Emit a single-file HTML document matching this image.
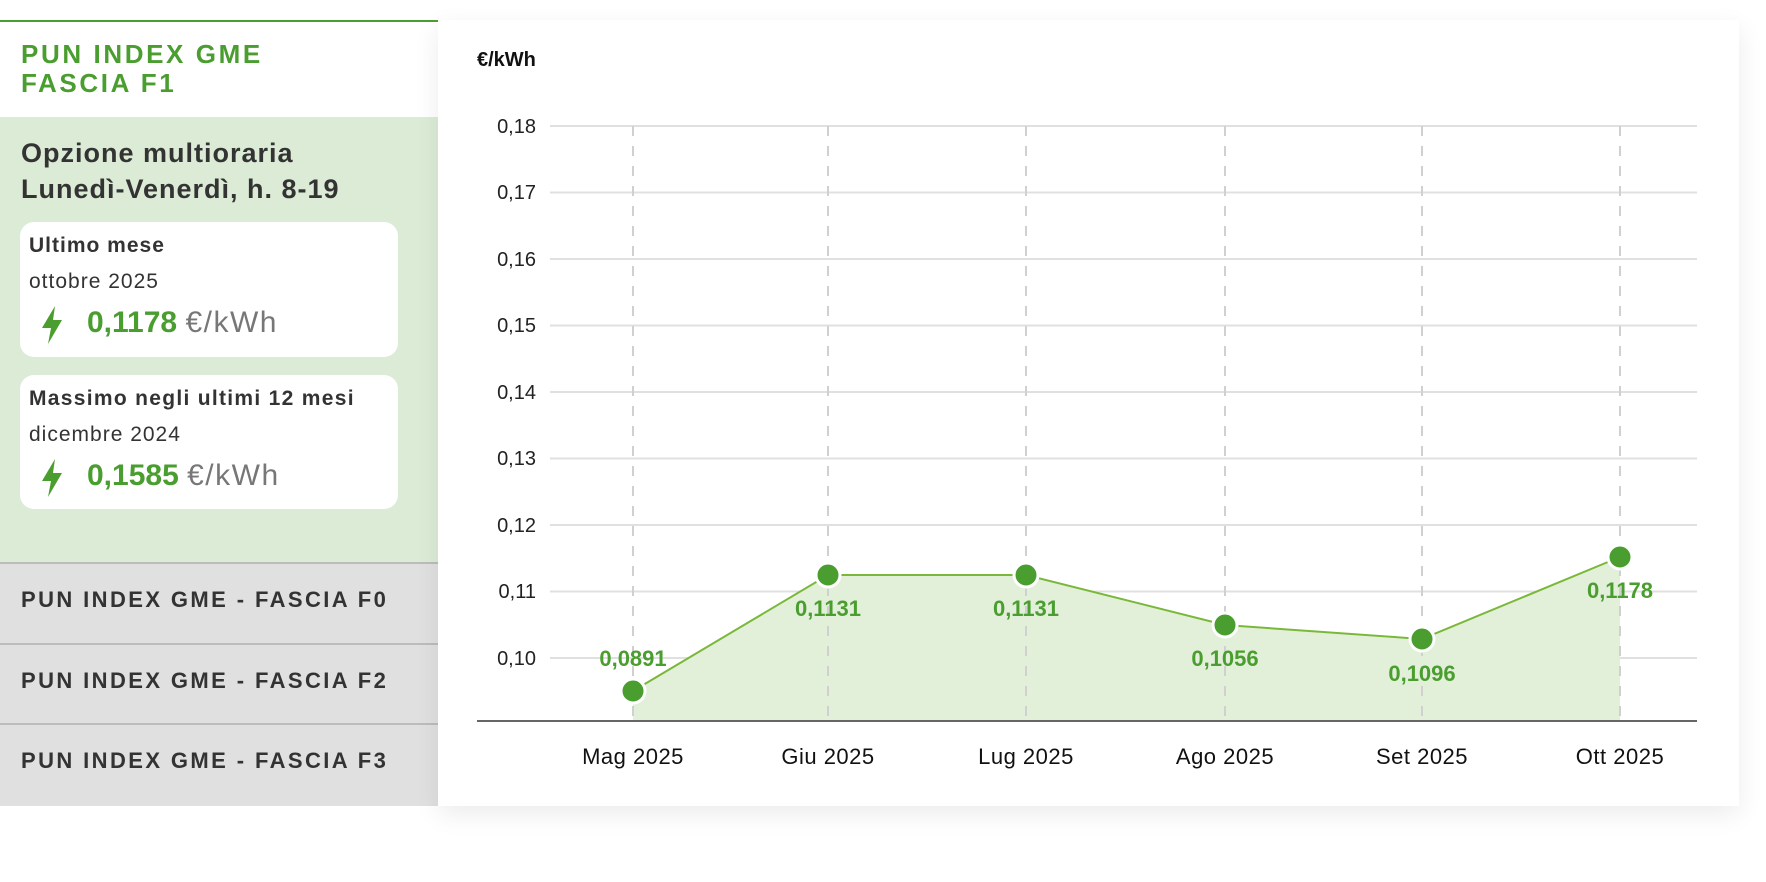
<!DOCTYPE html>
<html><head><meta charset="utf-8"><style>
body{margin:0;width:1766px;height:882px;background:#fff;font-family:"Liberation Sans",sans-serif;position:relative;overflow:hidden}
.l{position:absolute;left:0;width:438px}
.t{position:absolute;white-space:nowrap}
.card{position:absolute;left:20px;width:378px;background:#fff;border-radius:14px}
.row{position:absolute;left:0;width:438px;background:#e0e0e0;border-top:2px solid #bcbcbc;box-sizing:border-box}
.row span{position:absolute;left:21px;top:23px;font-weight:bold;font-size:22px;letter-spacing:2.4px;color:#333}
</style></head><body>
<div class="l" style="top:20px;height:2px;background:#4a9e2f"></div>
<div class="t" style="left:21px;top:40px;font-size:26px;font-weight:bold;color:#4a9e2f;letter-spacing:2.6px;line-height:29px">PUN INDEX GME<br>FASCIA F1</div>
<div class="l" style="top:117px;height:448px;background:#dcebd6"></div>
<div class="t" style="left:21px;top:135px;font-size:27px;font-weight:bold;color:#333;line-height:36px;letter-spacing:1px">Opzione multioraria<br>Lunedì-Venerdì, h. 8-19</div>
<div class="card" style="top:222px;height:135px">
<div class="t" style="left:9px;top:12px;font-size:21px;font-weight:bold;color:#333;letter-spacing:1px">Ultimo mese</div>
<div class="t" style="left:9px;top:48px;font-size:21px;color:#333;letter-spacing:1px">ottobre 2025</div>
<svg class="t" style="left:20px;top:84px" width="24" height="38" viewBox="0 0 24 38"><path d="M15 0 L2 22 H11 L8 38 L22 14 H13 Z" fill="#4a9e2f"/></svg>
<div class="t" style="left:67px;top:84px;font-size:30px;"><b style="color:#4a9e2f">0,1178</b> <span style="color:#777;letter-spacing:1.5px">€/kWh</span></div>
</div>
<div class="card" style="top:375px;height:134px">
<div class="t" style="left:9px;top:12px;font-size:21px;font-weight:bold;color:#333;letter-spacing:1.3px">Massimo negli ultimi 12 mesi</div>
<div class="t" style="left:9px;top:48px;font-size:21px;color:#333;letter-spacing:1px">dicembre 2024</div>
<svg class="t" style="left:20px;top:84px" width="24" height="38" viewBox="0 0 24 38"><path d="M15 0 L2 22 H11 L8 38 L22 14 H13 Z" fill="#4a9e2f"/></svg>
<div class="t" style="left:67px;top:84px;font-size:30px;"><b style="color:#4a9e2f">0,1585</b> <span style="color:#777;letter-spacing:1.5px">€/kWh</span></div>
</div>
<div class="row" style="top:562px;height:81px"><span>PUN INDEX GME - FASCIA F0</span></div>
<div class="row" style="top:643px;height:81px"><span>PUN INDEX GME - FASCIA F2</span></div>
<div class="row" style="top:723px;height:83px"><span>PUN INDEX GME - FASCIA F3</span></div>
<div style="position:absolute;left:438px;top:20px;width:1301px;height:786px;background:#fff;box-shadow:0 8px 24px rgba(0,0,0,0.08)"></div>
<svg style="position:absolute;left:0;top:0" width="1766" height="882" font-family="Liberation Sans, sans-serif">
<text x="477" y="66" font-size="20" font-weight="bold" fill="#111">€/kWh</text>
<g stroke="#e0e0e0" stroke-width="2">
<line x1="550" x2="1697" y1="126" y2="126"/><line x1="550" x2="1697" y1="192.5" y2="192.5"/><line x1="550" x2="1697" y1="259" y2="259"/><line x1="550" x2="1697" y1="325.5" y2="325.5"/><line x1="550" x2="1697" y1="392" y2="392"/><line x1="550" x2="1697" y1="458.5" y2="458.5"/><line x1="550" x2="1697" y1="525" y2="525"/><line x1="550" x2="1697" y1="591.5" y2="591.5"/><line x1="550" x2="1697" y1="658" y2="658"/>
</g>
<g font-size="20" fill="#222" text-anchor="end">
<text x="536" y="133">0,18</text><text x="536" y="199">0,17</text><text x="536" y="266">0,16</text><text x="536" y="332">0,15</text><text x="536" y="399">0,14</text><text x="536" y="465">0,13</text><text x="536" y="532">0,12</text><text x="536" y="598">0,11</text><text x="536" y="665">0,10</text>
</g>
<path d="M633 691 L828 575 L1026 575 L1225 625 L1422 639 L1620 557 L1620 721 L633 721 Z" fill="#e2efd9"/>
<g stroke="#d0d0d0" stroke-width="2" stroke-dasharray="10,10">
<line x1="633" x2="633" y1="126" y2="721"/><line x1="828" x2="828" y1="126" y2="721"/><line x1="1026" x2="1026" y1="126" y2="721"/><line x1="1225" x2="1225" y1="126" y2="721"/><line x1="1422" x2="1422" y1="126" y2="721"/><line x1="1620" x2="1620" y1="126" y2="721"/>
</g>
<line x1="477" x2="1697" y1="721" y2="721" stroke="#666" stroke-width="2"/>
<polyline points="633,691 828,575 1026,575 1225,625 1422,639 1620,557" fill="none" stroke="#7ab83a" stroke-width="2"/>
<g fill="#4a9e2f" stroke="#fff" stroke-width="3">
<circle cx="633" cy="691" r="12"/><circle cx="828" cy="575" r="12"/><circle cx="1026" cy="575" r="12"/><circle cx="1225" cy="625" r="12"/><circle cx="1422" cy="639" r="12"/><circle cx="1620" cy="557" r="12"/>
</g>
<g font-size="22" font-weight="bold" fill="#4a9e2f" text-anchor="middle">
<text x="633" y="666">0,0891</text><text x="828" y="616">0,1131</text><text x="1026" y="616">0,1131</text><text x="1225" y="666">0,1056</text><text x="1422" y="681">0,1096</text><text x="1620" y="598">0,1178</text>
</g>
<g font-size="22" fill="#111" text-anchor="middle" letter-spacing="0.5">
<text x="633" y="764">Mag 2025</text><text x="828" y="764">Giu 2025</text><text x="1026" y="764">Lug 2025</text><text x="1225" y="764">Ago 2025</text><text x="1422" y="764">Set 2025</text><text x="1620" y="764">Ott 2025</text>
</g>
</svg>
</body></html>
